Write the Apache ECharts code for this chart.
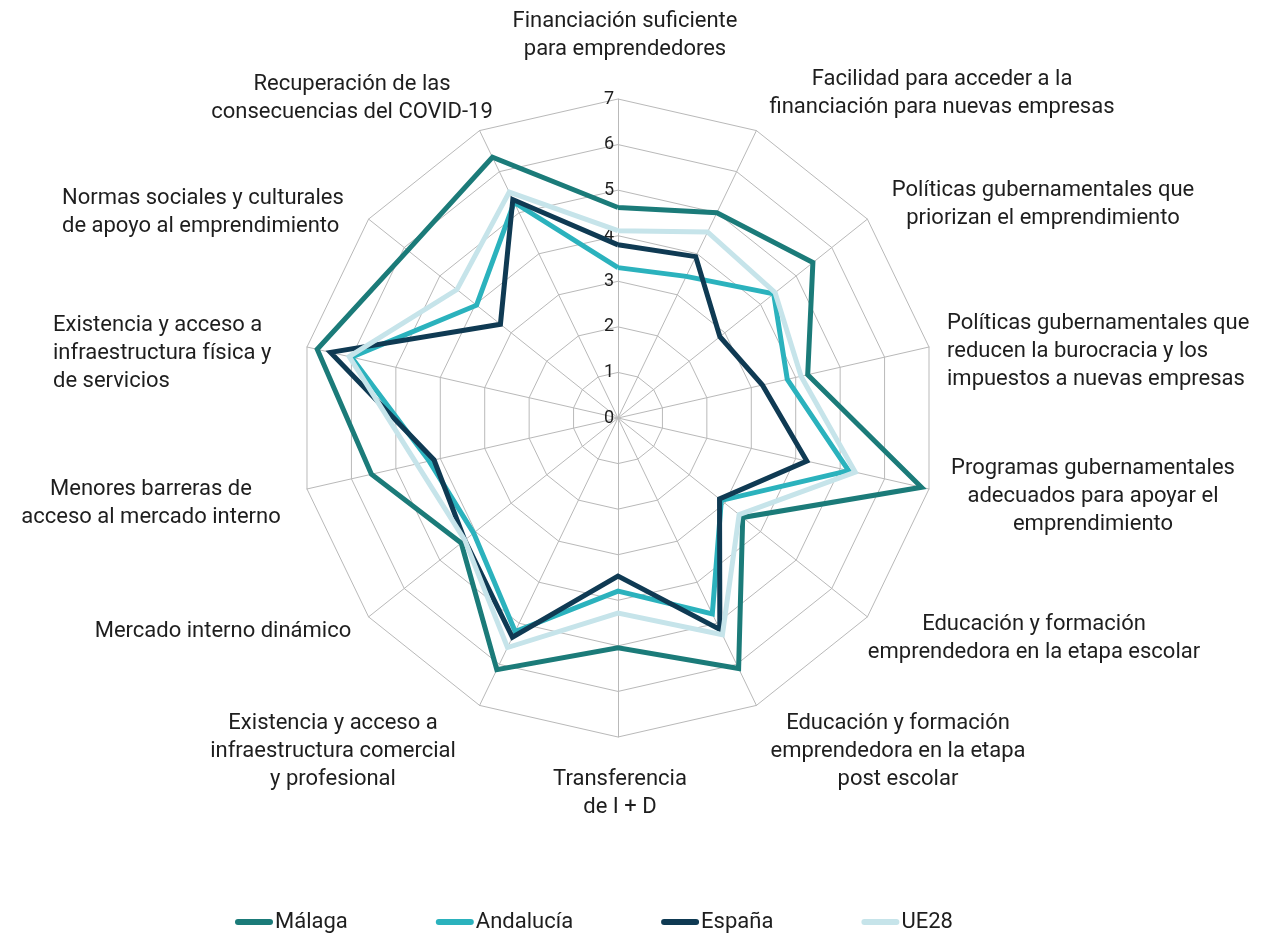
<!DOCTYPE html>
<html>
<head>
<meta charset="utf-8">
<script src="https://cdn.jsdelivr.net/npm/echarts@6/dist/echarts.min.js"></script>
<style>
  html, body { margin: 0; padding: 0; background: #ffffff; }
  #chart { width: 1261px; height: 933px; }
</style>
</head>
<body>
<div id="chart"></div>
<script>
// Condiciones del entorno emprendedor (escala 0-7), listadas en sentido horario desde arriba
const categoryLines = [
  ['Financiación suficiente', 'para emprendedores'],
  ['Facilidad para acceder a la', 'financiación para nuevas empresas'],
  ['Políticas gubernamentales que', 'priorizan el emprendimiento'],
  ['Políticas gubernamentales que', 'reducen la burocracia y los', 'impuestos a nuevas empresas'],
  ['Programas gubernamentales', 'adecuados para apoyar el', 'emprendimiento'],
  ['Educación y formación', 'emprendedora en la etapa escolar'],
  ['Educación y formación', 'emprendedora en la etapa', 'post escolar'],
  ['Transferencia', 'de I + D'],
  ['Existencia y acceso a', 'infraestructura comercial', 'y profesional'],
  ['Mercado interno dinámico'],
  ['Menores barreras de', 'acceso al mercado interno'],
  ['Existencia y acceso a', 'infraestructura física y', 'de servicios'],
  ['Normas sociales y culturales', 'de apoyo al emprendimiento'],
  ['Recuperación de las', 'consecuencias del COVID-19']
];

const seriesNames = ['Málaga', 'Andalucía', 'España', 'UE28'];

const malaga    = [4.62, 5.00, 5.47, 4.27, 6.83, 3.50, 6.10, 5.04, 6.13, 4.40, 5.55, 6.77, 5.90, 6.35];
const andalucia = [3.30, 3.45, 4.37, 3.81, 5.19, 2.90, 4.77, 3.80, 5.20, 4.05, 4.25, 6.00, 3.97, 5.25];
const espana    = [3.80, 3.93, 2.86, 3.25, 4.25, 2.85, 5.15, 3.47, 5.34, 4.30, 4.14, 6.47, 3.30, 5.32];
const ue28      = [4.11, 4.53, 4.41, 4.12, 5.34, 3.40, 5.28, 4.28, 5.59, 4.30, 4.53, 6.05, 4.52, 5.50];

const scaleTicks = [0, 1, 2, 3, 4, 5, 6, 7];

// Styling and layout
const colors = ['#1b7b79', '#2bb2bd', '#0f3a53', '#c6e4ea'];
const textColor = '#1e1e1e';
const gridColor = '#b9b9b9';
const CX = 618, CY = 418, R = 319;
const labelFont = '22px Roboto';
const labelLineHeight = 28;

// Anchor of each category label: x, centre of first line, alignment of the lines
const labelAnchors = [
  [625, 21, 'center'],
  [942, 79, 'center'],
  [1043, 190, 'center'],
  [947, 323, 'left'],
  [1093, 468, 'center'],
  [1034, 624, 'center'],
  [898, 723, 'center'],
  [620, 779, 'center'],
  [333, 723, 'center'],
  [223, 631, 'center'],
  [151, 489, 'center'],
  [53, 325, 'left'],
  [62, 198, 'left'],
  [352, 84, 'center']
];

// ECharts lays radar indicators out counter-clockwise; reorder so they run clockwise
function clockwise(arr) {
  return [arr[0]].concat(arr.slice(1).reverse());
}

const maxValue = scaleTicks[scaleTicks.length - 1];
const indicators = clockwise(categoryLines.map(function (lines) {
  return { name: lines.join(' '), max: maxValue, min: 0 };
}));

const allValues = [malaga, andalucia, espana, ue28];

const radarSeries = allValues.map(function (vals, i) {
  return {
    type: 'radar',
    name: seriesNames[i],
    symbol: 'none',
    silent: true,
    z: 2 + i,
    lineStyle: { color: colors[i], width: 5, join: 'miter', opacity: 1 },
    itemStyle: { color: colors[i] },
    data: [{ name: seriesNames[i], value: clockwise(vals) }]
  };
});

const labelGraphics = categoryLines.map(function (lines, i) {
  const a = labelAnchors[i];
  return {
    type: 'text',
    x: a[0],
    y: a[1] - labelLineHeight / 2,
    silent: true,
    style: {
      text: lines.join('\n'),
      font: labelFont,
      fill: textColor,
      align: a[2],
      verticalAlign: 'top',
      lineHeight: labelLineHeight
    }
  };
});

const chart = echarts.init(document.getElementById('chart'), null, { renderer: 'canvas' });

chart.setOption({
  animation: false,
  backgroundColor: '#ffffff',
  color: colors,
  radar: {
    center: [CX, CY],
    radius: R,
    startAngle: 90,
    splitNumber: scaleTicks.length - 1,
    shape: 'polygon',
    indicator: indicators,
    axisName: { show: false },
    axisLine: { lineStyle: { color: gridColor, width: 1 } },
    splitLine: { lineStyle: { color: gridColor, width: 1 } },
    splitArea: { show: false },
    axisTick: { show: false },
    axisLabel: { show: false }
  },
  // Scale 0-7 printed along the upward spoke
  grid: { left: CX, top: CY - R, width: 1, height: R, containLabel: false },
  xAxis: { type: 'value', show: false, min: 0, max: 1 },
  yAxis: {
    type: 'value',
    min: scaleTicks[0],
    max: maxValue,
    interval: 1,
    axisLine: { show: false },
    axisTick: { show: false },
    splitLine: { show: false },
    axisLabel: {
      color: textColor,
      fontFamily: 'Roboto',
      fontSize: 18,
      margin: 4,
      verticalAlign: 'middle',
      padding: [0, 0, 14, 0]
    }
  },
  legend: {
    data: seriesNames,
    left: 230,
    top: 906,
    itemGap: 88,
    itemWidth: 38,
    itemHeight: 6,
    icon: 'path://M3 0H35A3 3 0 0 1 35 6H3A3 3 0 0 1 3 0Z',
    textStyle: { color: textColor, fontFamily: 'Roboto', fontSize: 22, padding: [0, 0, 0, -3] },
    selectedMode: false
  },
  graphic: labelGraphics,
  series: radarSeries.concat([{
    type: 'line',
    xAxisIndex: 0,
    yAxisIndex: 0,
    data: [],
    silent: true
  }])
});
</script>
</body>
</html>
